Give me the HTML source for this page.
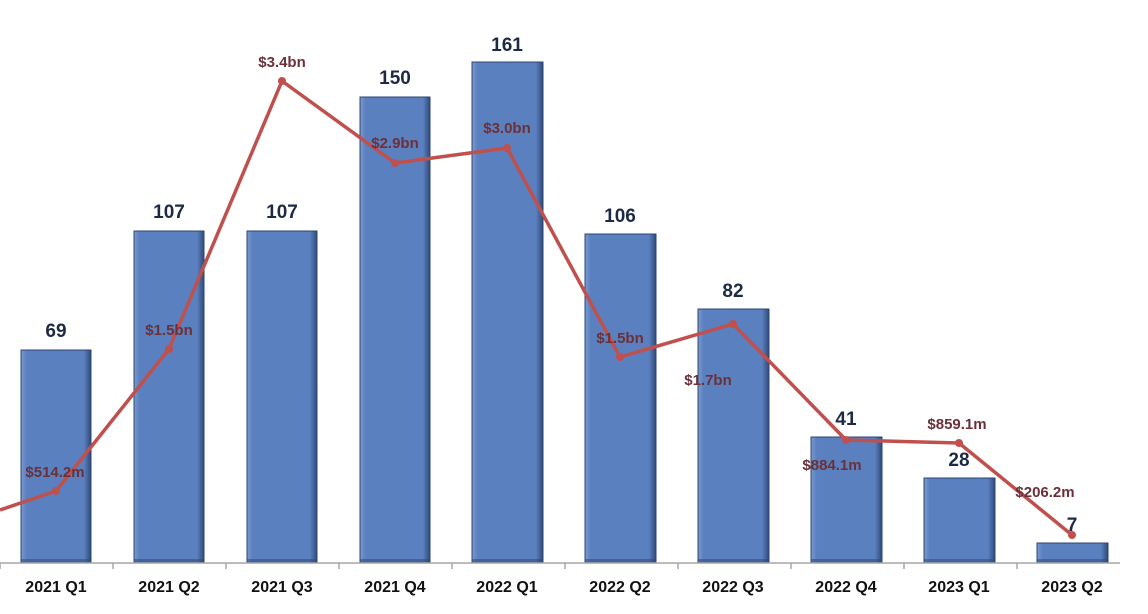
<!DOCTYPE html>
<html><head><meta charset="utf-8"><style>
html,body{margin:0;padding:0;background:#fff;}
svg{display:block;font-family:"Liberation Sans",Arial,sans-serif;font-weight:bold;}
</style></head><body>
<svg width="1148" height="614" viewBox="0 0 1148 614" xmlns="http://www.w3.org/2000/svg">
<defs>
<linearGradient id="bh" x1="0" x2="1" y1="0" y2="0">
<stop offset="0" stop-color="#7a9bd0"/><stop offset="0.08" stop-color="#5b80bf"/><stop offset="0.9" stop-color="#5b80bf"/><stop offset="1" stop-color="#2f4a7a"/>
</linearGradient>
<linearGradient id="bv" x1="0" x2="0" y1="0" y2="1">
<stop offset="0" stop-color="#2f4a7a" stop-opacity="0.5"/><stop offset="0.02" stop-color="#2f4a7a" stop-opacity="0"/><stop offset="0.97" stop-color="#2f4a7a" stop-opacity="0"/><stop offset="1" stop-color="#2f4a7a" stop-opacity="0.6"/>
</linearGradient>
</defs>
<g id="bars" stroke="#2c4470" stroke-width="1">
<rect x="21" y="350" width="70" height="213" fill="url(#bh)"/>
<rect x="134" y="231" width="70" height="332" fill="url(#bh)"/>
<rect x="247" y="231" width="70" height="332" fill="url(#bh)"/>
<rect x="360" y="97" width="70" height="466" fill="url(#bh)"/>
<rect x="472" y="62" width="71" height="501" fill="url(#bh)"/>
<rect x="585" y="234" width="71" height="329" fill="url(#bh)"/>
<rect x="698" y="309" width="71" height="254" fill="url(#bh)"/>
<rect x="811" y="437" width="71" height="126" fill="url(#bh)"/>
<rect x="924" y="478" width="71" height="85" fill="url(#bh)"/>
<rect x="1037" y="543" width="71" height="20" fill="url(#bh)"/>
</g>
<g fill="#2f4a7a" opacity="0.55">
<rect x="21" y="559" width="70" height="4"/><rect x="134" y="559" width="70" height="4"/><rect x="247" y="559" width="70" height="4"/><rect x="360" y="559" width="70" height="4"/><rect x="472" y="559" width="71" height="4"/><rect x="585" y="559" width="71" height="4"/><rect x="698" y="559" width="71" height="4"/><rect x="811" y="559" width="71" height="4"/><rect x="924" y="559" width="71" height="4"/><rect x="1037" y="559" width="71" height="4"/>
</g>
<line x1="0" y1="563" x2="1120" y2="563" stroke="#a6a6a6" stroke-width="1.5"/>
<g stroke="#a6a6a6" stroke-width="1.5">
<line x1="0" y1="563" x2="0" y2="569"/><line x1="113" y1="563" x2="113" y2="569"/><line x1="226" y1="563" x2="226" y2="569"/><line x1="339" y1="563" x2="339" y2="569"/><line x1="452" y1="563" x2="452" y2="569"/><line x1="565" y1="563" x2="565" y2="569"/><line x1="678" y1="563" x2="678" y2="569"/><line x1="791" y1="563" x2="791" y2="569"/><line x1="904" y1="563" x2="904" y2="569"/><line x1="1017" y1="563" x2="1017" y2="569"/>
</g>
<g font-size="16" fill="#111" text-anchor="middle">
<text x="56" y="592">2021 Q1</text><text x="169" y="592">2021 Q2</text><text x="282" y="592">2021 Q3</text><text x="395" y="592">2021 Q4</text><text x="507" y="592">2022 Q1</text><text x="620" y="592">2022 Q2</text><text x="733" y="592">2022 Q3</text><text x="846" y="592">2022 Q4</text><text x="959" y="592">2023 Q1</text><text x="1072" y="592">2023 Q2</text>
</g>
<g font-size="19" fill="#1e2a44" text-anchor="middle">
<text x="56" y="337">69</text><text x="169" y="218">107</text><text x="282" y="218">107</text><text x="395" y="84">150</text><text x="507" y="51">161</text><text x="620" y="222">106</text><text x="733" y="297">82</text><text x="846" y="425">41</text><text x="959" y="466">28</text><text x="1072" y="531">7</text>
</g>
<polyline points="0,510 56,491 169,349 282,81 395,163 507,148 620,357 733,324 846,440 959,443 1072,535" fill="none" stroke="#c0504d" stroke-width="3.5" stroke-linejoin="round"/>
<g fill="#c0504d">
<circle cx="56" cy="491" r="4"/><circle cx="169" cy="349" r="4"/><circle cx="282" cy="81" r="4"/><circle cx="395" cy="163" r="4"/><circle cx="507" cy="148" r="4"/><circle cx="620" cy="357" r="4"/><circle cx="733" cy="324" r="4"/><circle cx="846" cy="440" r="4"/><circle cx="959" cy="443" r="4"/><circle cx="1072" cy="535" r="4"/>
</g>
<g font-size="15" fill="#6b3038" text-anchor="middle">
<text x="55" y="477">$514.2m</text><text x="169" y="335">$1.5bn</text><text x="282" y="67">$3.4bn</text><text x="395" y="148">$2.9bn</text><text x="507" y="133">$3.0bn</text><text x="620" y="343">$1.5bn</text><text x="708" y="385">$1.7bn</text><text x="832" y="470">$884.1m</text><text x="957" y="429">$859.1m</text><text x="1045" y="497">$206.2m</text>
</g>
</svg>
</body></html>
